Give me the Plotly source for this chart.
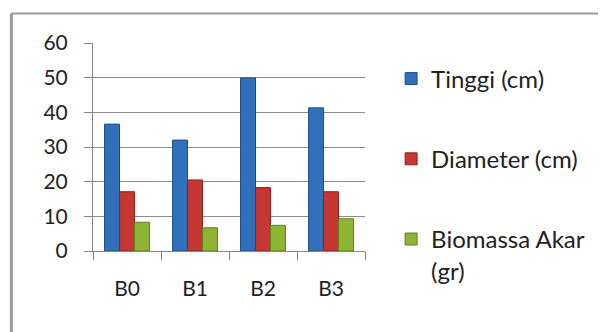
import plotly.graph_objects as go

categories = ["B0", "B1", "B2", "B3"]
tinggi = [36.6, 32.0, 49.9, 41.3]
diameter = [17.1, 20.5, 18.3, 17.1]
biomassa = [8.3, 6.7, 7.4, 9.3]
series_names = ["Tinggi (cm)", "Diameter (cm)", "Biomassa Akar<br>(gr)"]
y_ticks = [0, 10, 20, 30, 40, 50, 60]

colors = ["#3070BB", "#C63632", "#8DB534"]
outlines = ["#1F4E86", "#8E2220", "#5E8020"]

fig = go.Figure()
for i, (name, vals) in enumerate(zip(series_names, [tinggi, diameter, biomassa])):
    fig.add_trace(go.Bar(
        x=categories, y=vals, name=name,
        marker=dict(color=colors[i], line=dict(color=outlines[i], width=1)),
        legendgroup=f"g{i}",
    ))

font_family = "Lato, 'Open Sans', sans-serif"
fig.update_layout(
    width=598, height=324,
    margin=dict(l=85, r=241, t=35, b=81),
    paper_bgcolor="white", plot_bgcolor="white",
    barmode="group", bargap=0.34, bargroupgap=0,
    font=dict(family=font_family, size=21, color="#222222"),
    showlegend=True,
    legend=dict(x=1.096, y=0.935, xanchor="left", yanchor="top",
                font=dict(size=24, color="#222222"),
                tracegroupgap=46, itemwidth=30, bgcolor="rgba(0,0,0,0)",
                valign="top", maxheight=320),
    xaxis=dict(showline=True, linecolor="#868686", linewidth=1,
               ticks="outside", tickson="boundaries", ticklen=8, tickcolor="#868686",
               ticklabelstandoff=19, showgrid=False),
    yaxis=dict(range=[0, 60], tickvals=y_ticks, showgrid=True, gridcolor="#8C8C8C", gridwidth=1,
               showline=True, linecolor="#868686", linewidth=1,
               ticks="outside", ticklen=8, tickcolor="#868686", ticklabelstandoff=12,
               zeroline=False),
    shapes=[
        dict(type="line", xref="paper", yref="paper", x0=-0.30, x1=2.0, y0=1.142, y1=1.142,
             line=dict(color="#9A9A9A", width=2)),
        dict(type="line", xref="paper", yref="paper", x0=-0.30, x1=-0.30, y0=1.142, y1=-0.5,
             line=dict(color="#9A9A9A", width=3)),
    ],
)

fig.write_html("out.html")
